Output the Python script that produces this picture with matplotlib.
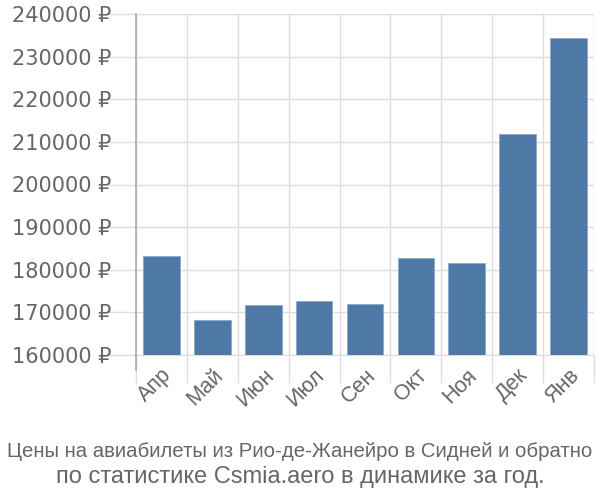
import matplotlib
matplotlib.use("Agg")
import matplotlib.pyplot as plt
import matplotlib.transforms as mtransforms
import numpy as np

plt.rcParams["font.family"] = ["Liberation Sans", "DejaVu Sans"]

months = ["Апр", "Май", "Июн", "Июл", "Сен", "Окт", "Ноя", "Дек", "Янв"]
prices = [183200, 168300, 171700, 172700, 171900, 182800, 181700, 211800, 234400]
y_ticks = [160000, 170000, 180000, 190000, 200000, 210000, 220000, 230000, 240000]
caption_lines = ["Цены на авиабилеты из Рио-де-Жанейро в Сидней и обратно",
                 "по статистике Csmia.aero в динамике за год."]

bar_color = "#4e79a7"
text_color = "#666666"
grid_color = "#dddddd"

fig = plt.figure(figsize=(6, 5), dpi=100)
ax = fig.add_axes([136 / 600, 1 - 355 / 500, (594 - 136) / 600, (355 - 14) / 500])

x = np.arange(len(months))
ax.bar(x, prices, width=0.72, color=bar_color, edgecolor="#8fa9c8", linewidth=0.6,
       zorder=3)

ax.set_xlim(-0.5, len(months) - 0.5)
ax.set_ylim(y_ticks[0], y_ticks[-1])

ax.set_yticks(y_ticks)
ax.set_yticklabels(["%d \u20bd" % v for v in y_ticks], fontsize=15, color=text_color,
                   family=["DejaVu Sans"])
ax.tick_params(axis="y", length=21, width=1, color=grid_color, pad=-3)
ax.grid(axis="y", color=grid_color, linewidth=1, zorder=0)

ax.set_xticks(x)
ax.set_xticklabels(months, rotation=45, ha="right", rotation_mode="anchor",
                   fontsize=15.5, color=text_color)
ax.tick_params(axis="x", which="major", length=0, pad=7)
ax.set_xticks(np.arange(len(months) + 1) - 0.5, minor=True)
ax.tick_params(axis="x", which="minor", length=20, width=1, color=grid_color)
ax.grid(axis="x", which="minor", color=grid_color, linewidth=1, zorder=0)

for side in ["top", "right"]:
    ax.spines[side].set_visible(False)
ax.spines["bottom"].set_color(grid_color)
ax.spines["left"].set_color("#aaaaaa")
ax.spines["left"].set_linewidth(1.2)

trans = mtransforms.blended_transform_factory(ax.transData, ax.transAxes)
ax.plot([-0.5, -0.5], [0, -15 / 341], transform=trans, color="#aaaaaa",
        linewidth=1.2, clip_on=False, zorder=4)

# first caption line is squeezed to the full width in the reference
fig.text(0.5, 1 - 457 / 500, caption_lines[0], ha="center", va="baseline",
         fontsize=14.7, color=text_color)
fig.text(0.5, 1 - 483 / 500, caption_lines[1], ha="center", va="baseline",
         fontsize=17, color=text_color)

fig.savefig("out.png", dpi=100)
